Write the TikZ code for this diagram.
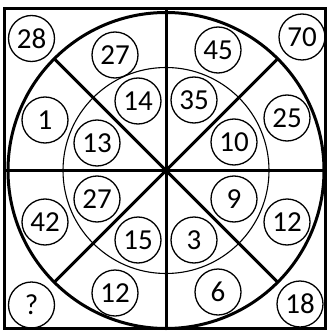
\documentclass[tikz,border=0pt]{standalone}
\usepackage{fontspec}
\setmainfont{Carlito}
\begin{document}
\begin{tikzpicture}[x=1pt,y=-1pt,
  num/.style={circle,draw,line width=1.3pt,minimum size=46pt,inner sep=0pt,
    font=\fontsize{29}{32}\selectfont},
  heavy/.style={line width=3pt},
  thin/.style={line width=1.1pt}]
\useasboundingbox (0,0) rectangle (327,331);
\fill[white] (0,0) rectangle (327,331);
% frame
\coordinate (TL) at (4.5,8.5);
\coordinate (BR) at (325.5,328.5);
\draw[line width=2.4pt] (TL) rectangle (BR);
\coordinate (O) at (166,170.5);
\coordinate (T) at (166,8.5);
\coordinate (B) at (166,328.5);
\coordinate (L) at (4.5,170.5);
\coordinate (R) at (325.5,170.5);
% circles
\draw[heavy] (O) circle[radius=158pt];
\draw[thin] (O) circle[radius=103pt];
% spokes
\draw[heavy] (T) -- (B);
\draw[heavy] (L) -- (R);
\draw[heavy] (O) -- ++(-111.7,-111.7) coordinate (D1);
\draw[heavy] (O) -- ++(111.7,-111.7) coordinate (D2);
\draw[heavy] (O) -- ++(-111.7,111.7) coordinate (D3);
\draw[heavy] (O) -- ++(111.7,111.7) coordinate (D4);
% numbers
\node[num] (n28) at (31.5,38.5) {28};
\node[num] (n27a) at (115,55) {27};
\node[num] (n1) at (45,120) {1};
\node[num] (n14) at (138,101) {14};
\node[num] (n13) at (97,143) {13};
\node[num] (n45) at (218,50) {45};
\node[num] (n70) at (302,37) {70};
\node[num] (n35) at (194,100) {35};
\node[num] (n25) at (287,118) {25};
\node[num] (n10) at (234,142) {10};
\node[num] (n27b) at (97,199) {27};
\node[num] (n42) at (45,222) {42};
\node[num] (n15) at (138,240) {15};
\node[num] (n12a) at (115,293) {12};
\node[num] (nq) at (31.5,305) {?};
\node[num] (n9) at (234,199) {9};
\node[num] (n12b) at (287,222) {12};
\node[num] (n3) at (194,240) {3};
\node[num] (n6) at (218,292) {6};
\node[num] (n18) at (300,304) {18};
\end{tikzpicture}
\end{document}
